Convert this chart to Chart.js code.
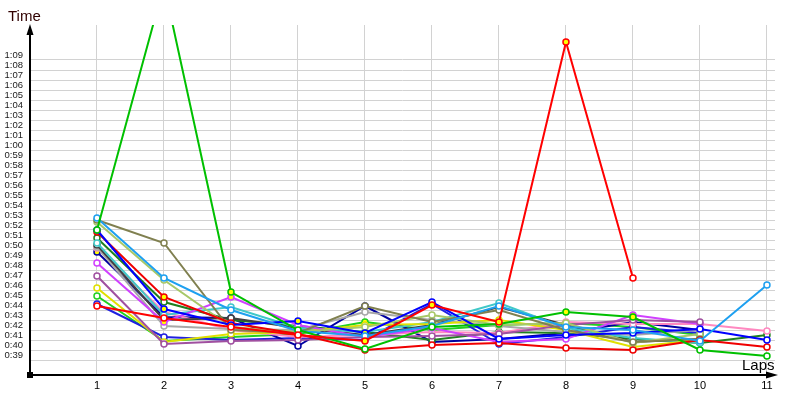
<!DOCTYPE html>
<html>
<head>
<meta charset="utf-8">
<script src="https://cdn.jsdelivr.net/npm/chart.js@4.4.0/dist/chart.umd.min.js"></script>
<style>
  body { margin: 0; background: #fff; }
</style>
</head>
<body>
<canvas id="laps" width="800" height="400"></canvas>
<script>
// lap numbers on the x axis
const laps = [1, 2, 3, 4, 5, 6, 7, 8, 9, 10, 11]
// y tick values, in seconds (0:39 .. 1:09)
const timeTicks = [39, 40, 41, 42, 43, 44, 45, 46, 47, 48, 49, 50, 51, 52, 53, 54, 55, 56, 57, 58, 59, 60, 61, 62, 63, 64, 65, 66, 67, 68, 69]

// lap times per driver, seconds
const greenTimes = [52.0, 76.5, 45.8, 42.0, 40.1, 42.3, 42.6, 43.8, 43.3, 40.0, 39.4]
const redSpikeTimes = [44.4, 43.2, 42.3, 41.5, 40.9, 44.5, 42.8, 70.8, 47.2]
const redTimes = [51.8, 45.3, 42.7, 41.6, 40.0, 40.5, 40.7, 40.2, 40.0, 41.0, 40.3]
const oliveTimes = [53.0, 50.7, 42.0, 41.7, 44.4, 42.8, 44.0, 42.0, 40.8, 41.1]
const skyTimes = [53.2, 47.2, 44.0, 41.9, 41.4, 42.4, 44.4, 42.3, 42.0, 40.9, 46.5]
const limeTimes = [52.8, 47.0, 42.3, 41.8, 42.3, 43.5, 42.5, 42.7, 40.7, 41.6]
const purpleTimes = [47.4, 40.6, 40.9, 41.0, 41.3, 41.4, 41.6, 42.5, 43.0, 42.8]
const magentaTimes = [48.7, 42.8, 45.3, 42.5, 41.3, 42.2, 40.8, 41.1, 43.5, 42.6]
const yellowTimes = [46.2, 40.8, 41.6, 41.8, 42.5, 42.6, 43.0, 42.0, 40.3, 41.0]
const cyanTimes = [50.7, 43.5, 44.3, 42.2, 41.8, 42.8, 44.7, 42.2, 41.2, 40.7]
const darkGrayTimes = [50.5, 43.0, 43.2, 42.2, 41.5, 42.5, 44.3, 42.5, 40.8, 41.1]
const grayTimes = [50.3, 42.4, 42.1, 42.0, 43.8, 43.0, 42.4, 41.8, 41.5, 42.0]
const pinkTimes = [50.2, 43.8, 42.0, 41.3, 41.5, 41.8, 41.7, 42.8, 42.6, 42.6, 41.9]
const darkGreenTimes = [51.2, 44.8, 43.0, 42.4, 41.8, 41.0, 41.8, 41.7, 41.1, 40.7, 41.5]
const blueTimes = [52.0, 44.1, 42.5, 42.9, 41.7, 44.8, 41.1, 41.5, 41.7, 42.1, 41.0]
const navyTimes = [49.8, 43.3, 43.2, 40.4, 44.4, 40.8, 41.1, 41.7, 42.8, 42.0]
const royalTimes = [44.6, 41.3, 41.0, 41.2, 41.0, 44.6, 40.6, 41.3, 42.3, 41.7]
const grassTimes = [45.4, 40.9, 41.3, 41.6, 42.8, 42.0, 42.5, 42.7, 42.3, 41.5]

// laps drawn with a filled (yellow) marker
const greenMarked = [3, 8, 9]
const redSpikeMarked = [5, 6, 7, 8]
const redMarked = [1, 2]
const magentaMarked = [2, 3, 9]
const blueMarked = [1, 2, 3, 4, 5]
const navyMarked = [1]
const grassMarked = [5]

const drivers = [
    { times: redSpikeTimes, color: '#ff0000', marked: redSpikeMarked },
    { times: greenTimes, color: '#00c000', marked: greenMarked },
    { times: skyTimes, color: '#1ea0f0', marked: [] },
    { times: blueTimes, color: '#0000ff', marked: blueMarked },
    { times: redTimes, color: '#f00000', marked: redMarked },
    { times: oliveTimes, color: '#808050', marked: [] },
    { times: limeTimes, color: '#a8c868', marked: [] },
    { times: purpleTimes, color: '#a050a0', marked: [] },
    { times: magentaTimes, color: '#d040ff', marked: magentaMarked },
    { times: yellowTimes, color: '#e0e000', marked: [] },
    { times: cyanTimes, color: '#40c8c8', marked: [] },
    { times: darkGrayTimes, color: '#404040', marked: [] },
    { times: grayTimes, color: '#a8a8a8', marked: [] },
    { times: pinkTimes, color: '#ff88c0', marked: [] },
    { times: darkGreenTimes, color: '#208020', marked: [] },
    { times: navyTimes, color: '#0000a0', marked: navyMarked },
    { times: royalTimes, color: '#2020e0', marked: [] },
    { times: grassTimes, color: '#20d020', marked: grassMarked },
]

const fmtTime = (v) => Math.floor(v / 60) + ':' + String(Math.round(v % 60)).padStart(2, '0')

const datasets = drivers.map(d => ({
    data: d.times.map((t, i) => ({ x: laps[i], y: t })),
    borderColor: d.color,
    borderWidth: 2,
    pointRadius: 3,
    pointBorderWidth: 1.5,
    pointBorderColor: d.color,
    pointBackgroundColor: d.times.map((t, i) => d.marked.includes(laps[i]) ? '#ffff00' : '#ffffff'),
    tension: 0,
}))

// axes with arrows and the two titles
const axisDecor = {
    id: 'axisDecor',
    afterDraw(chart) {
        const ctx = chart.ctx
        const area = chart.chartArea
        const x0 = area.left, y0 = area.bottom
        ctx.save()
        ctx.strokeStyle = '#000'
        ctx.fillStyle = '#000'
        ctx.lineWidth = 2
        ctx.beginPath()
        ctx.moveTo(x0, y0)
        ctx.lineTo(x0, area.top + 6)
        ctx.moveTo(x0, y0)
        ctx.lineTo(area.right - 6, y0)
        ctx.stroke()
        // y arrow
        ctx.beginPath()
        ctx.moveTo(x0, area.top - 1)
        ctx.lineTo(x0 - 3.5, area.top + 10)
        ctx.lineTo(x0 + 3.5, area.top + 10)
        ctx.closePath()
        ctx.fill()
        // x arrow
        ctx.beginPath()
        ctx.moveTo(area.right + 3, y0)
        ctx.lineTo(area.right - 9, y0 - 3.5)
        ctx.lineTo(area.right - 9, y0 + 3.5)
        ctx.closePath()
        ctx.fill()
        ctx.fillRect(x0 - 3, y0 - 3, 6, 6)

        ctx.font = '15px "Liberation Sans", Arial, sans-serif'
        ctx.textBaseline = 'alphabetic'
        ctx.fillStyle = '#300000'
        ctx.textAlign = 'left'
        ctx.fillText('Time', 8, 21)
        ctx.fillStyle = '#000'
        ctx.fillText('Laps', 742, 370)
        ctx.restore()
    }
}

new Chart(document.getElementById('laps'), {
    type: 'line',
    data: { datasets },
    options: {
        responsive: false,
        animation: false,
        layout: { padding: { top: 25, right: 25, left: 0, bottom: 0 } },
        plugins: { legend: { display: false }, tooltip: { enabled: false } },
        scales: {
            x: {
                type: 'linear',
                min: 0,
                max: 11.12,
                afterBuildTicks: (s) => { s.ticks = laps.map(v => ({ value: v })) },
                afterFit: (s) => { s.height = 25 },
                grid: { color: '#d2d2d2', lineWidth: 1, drawTicks: false },
                border: { display: false },
                ticks: { color: '#000', padding: 4, autoSkip: false, font: { family: 'Liberation Sans', size: 11 } },
            },
            y: {
                type: 'linear',
                min: 37.5,
                max: 72.5,
                afterBuildTicks: (s) => { s.ticks = timeTicks.map(v => ({ value: v })) },
                afterFit: (s) => { s.width = 30 },
                grid: { color: '#d2d2d2', lineWidth: 1, drawTicks: false },
                border: { display: false },
                ticks: {
                    color: '#1a1a1a',
                    padding: 7,
                    labelOffset: -5,
                    autoSkip: false,
                    font: { family: 'Liberation Sans', size: 9.5 },
                    callback: (v) => fmtTime(v),
                },
            },
        },
    },
    plugins: [axisDecor],
})
</script>
</body>
</html>
